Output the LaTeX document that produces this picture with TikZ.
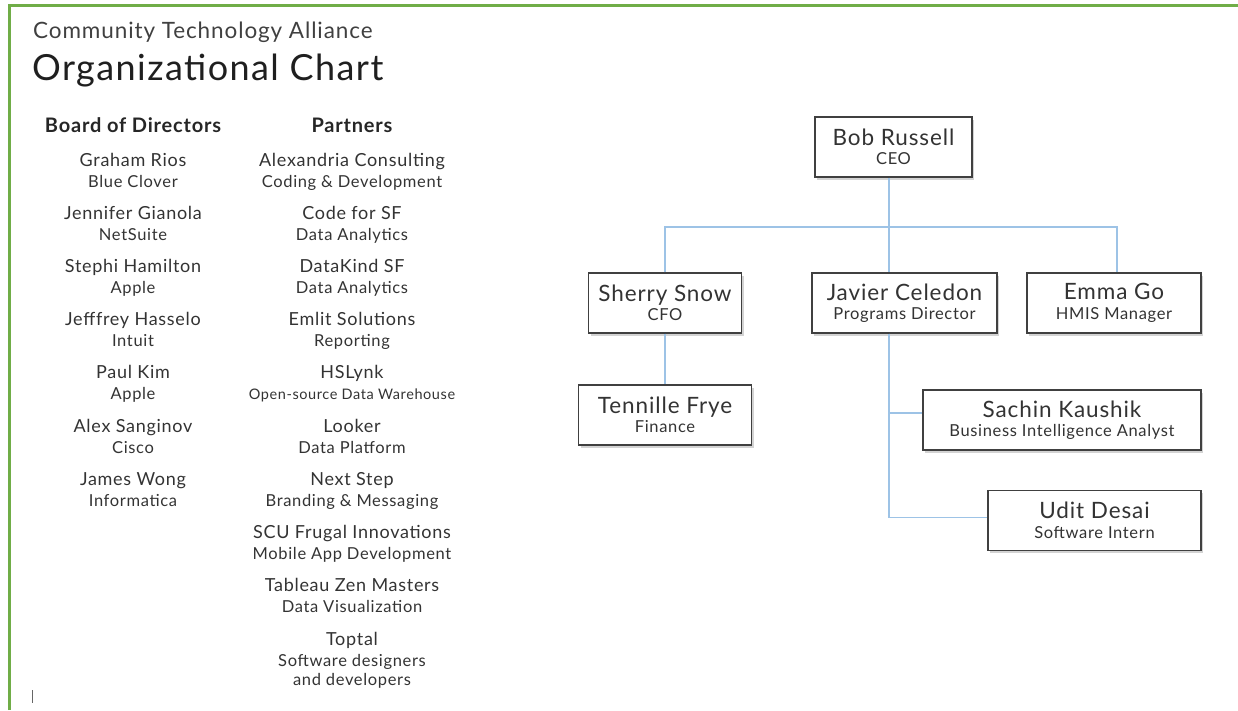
\documentclass[tikz,border=0pt]{standalone}
\usepackage{fontspec}
\setmainfont{Lato}[LetterSpace=4]
\usetikzlibrary{shadows,positioning}

\definecolor{borderGreen}{HTML}{70AD47}
\definecolor{linkBlue}{HTML}{9DC3E6}
\definecolor{textGray}{HTML}{333333}

\newcommand{\person}[2]{{\fontsize{22.5}{22.5}\selectfont #1}\\{\fontsize{16.5}{16.5}\selectfont #2}}

\tikzset{
  orgbox/.style={draw=black!75, line width=1.2pt, fill=white, align=center,
    inner sep=0pt, minimum height=60pt, text=textGray,
    font=\fontsize{15}{19.5}\selectfont,
    drop shadow={shadow xshift=2pt, shadow yshift=-2.5pt, opacity=.35}},
  link/.style={draw=linkBlue, line width=1.5pt},
  listhead/.style={font=\bfseries\fontsize{20}{20}\selectfont, text=black!85, anchor=base, inner sep=0pt},
  listname/.style={font=\fontsize{18}{18}\selectfont, text=textGray, anchor=base, inner sep=0pt},
  listsub/.style={font=\fontsize{16.5}{16.5}\selectfont, text=textGray, anchor=base, inner sep=0pt},
}

\begin{document}
\begin{tikzpicture}[x=1pt, y=-1pt]
  \useasboundingbox (0,0) rectangle (1238,710);

  % Рамка
  \draw[borderGreen, line width=3pt] (9.5,710) -- (9.5,5.5) -- (1238,5.5);

  % Заголовок
  \node[anchor=base west, inner sep=0pt, text=black!75, font=\fontsize{22.5}{22.5}\selectfont] (subtitle) at (33,38) {Community Technology Alliance};
  \node[anchor=base west, inner sep=0pt, text=black!88, font=\fontsize{36}{36}\selectfont] (title) at (32,80) {Organizational Chart};

  % Совет директоров
  \node[listhead] (board) at (133,132) {Board of Directors};
  \foreach \nm/\org [count=\i from 0] in {Graham Rios/Blue Clover, Jennifer Gianola/NetSuite,
      Stephi Hamilton/Apple, Jefffrey Hasselo/Intuit, Paul Kim/Apple, Alex Sanginov/Cisco,
      James Wong/Informatica}{
    \node[listname] (bname\i) at (133,{166+53.2*\i}) {\nm};
    \node[listsub] (borg\i) at (133,{187+53.2*\i}) {\org};
  }

  % Партнёры
  \node[listhead] (partners) at (352,132) {Partners};
  \foreach \nm/\job [count=\i from 0] in {Alexandria Consulting/Coding \& Development,
      Code for SF/Data Analytics, DataKind SF/Data Analytics, Emlit Solutions/Reporting,
      HSLynk/{\fontsize{14.5}{14.5}\selectfont Open-source Data Warehouse}, Looker/Data Platform,
      Next Step/Branding \& Messaging, SCU Frugal Innovations/Mobile App Development,
      Tableau Zen Masters/Data Visualization}{
    \node[listname] (pname\i) at (352,{166+53.2*\i}) {\nm};
    \node[listsub] (pjob\i) at (352,{187+53.2*\i}) {\job};
  }
  \node[listname] (pname9) at (352,645.8) {Toptal};
  \node[listsub] (pjob9) at (352,666.8) {Software designers};
  \node[listsub] (pjob9b) at (352,685.8) {and developers};

  % Курсор
  \draw[black!60, line width=1pt] (32.5,690) -- (32.5,703);

  % Оргструктура
  \node[orgbox, minimum width=157pt] (bob) at (893.5,147) {\person{Bob Russell}{CEO}};
  \node[orgbox, minimum width=153pt] (sherry) at (665,303) {\person{Sherry Snow}{CFO}};
  \node[orgbox, minimum width=185pt] (javier) at (904.5,303) {\person{Javier Celedon}{Programs Director}};
  \node[orgbox, minimum width=174pt] (emma) at (1114,303) {\person{Emma Go}{HMIS Manager}};
  \node[orgbox, minimum width=173pt] (tennille) at (665,415) {\person{Tennille Frye}{Finance}};
  \node[orgbox, minimum width=278pt] (sachin) at (1062,420) {\person{Sachin Kaushik}{Business Intelligence Analyst}};
  \node[orgbox, minimum width=213pt] (udit) at (1094.5,520.5) {\person{Udit Desai}{Software Intern}};

  % Связи
  \coordinate (bus) at (889,227);
  \draw[link] (bob.south -| bus) -- (javier.north -| bus);
  \draw[link] (sherry.north) |- (bus) -| ([xshift=3pt]emma.north);
  \draw[link] (sherry.south) -- (tennille.north);
  \draw[link] (javier.south -| bus) |- ([yshift=7pt]sachin.west);
  \draw[link] (javier.south -| bus) |- ([yshift=3pt]udit.west);
\end{tikzpicture}
\end{document}
